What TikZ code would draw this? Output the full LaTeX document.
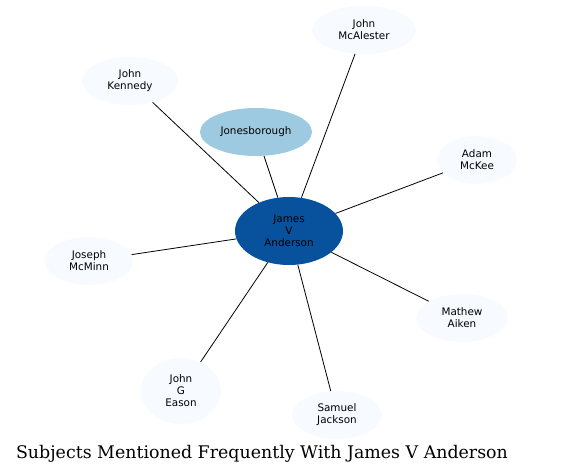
\documentclass[tikz,border=0pt]{standalone}
\usepackage{fontspec}
\setmainfont{DejaVu Serif}
\newfontfamily\nodefont{DejaVu Sans}
\usepackage{xcolor}
\definecolor{subjdark}{RGB}{8,81,156}
\definecolor{subjmid}{RGB}{158,202,225}
\definecolor{subjpale}{RGB}{247,251,255}
\usepackage{tikz}
\usetikzlibrary{shapes.geometric}
\tikzset{
  subj node/.style={ellipse, fill=subjpale, inner sep=0pt, align=center, font=\nodefont\fontsize{10.4}{12}\selectfont, minimum height=48pt},
  subj edge/.style={line width=0.8pt, black},
}
\begin{document}
\begin{tikzpicture}[x=1pt, y=-1pt]
  \useasboundingbox (0,0) rectangle (563,476);
  \node[subj node, fill=subjdark, minimum width=108pt, minimum height=68pt] (jva) at (289,231) {James\\V\\Anderson};
  \node[subj node, fill=subjmid, minimum width=112pt] (jon) at (256,132) {Jonesborough};
  \node[subj node, minimum width=104pt] (mca) at (364,30) {John\\McAlester};
  \node[subj node, minimum width=96pt] (ken) at (130,81) {John\\Kennedy};
  \node[subj node, minimum width=80pt] (mck) at (477,160) {Adam\\McKee};
  \node[subj node, minimum width=88pt] (mcm) at (89,261) {Joseph\\McMinn};
  \node[subj node, minimum width=92pt] (aik) at (462,318) {Mathew\\Aiken};
  \node[subj node, minimum width=80pt, minimum height=66pt] (eas) at (181,391) {John\\G\\Eason};
  \node[subj node, minimum width=90pt] (jac) at (337,415) {Samuel\\Jackson};
  \foreach \n in {jon,mca,ken,mck,mcm,aik,eas,jac}
    \draw[subj edge] (jva) -- (\n);
  \node[font=\fontsize{17.4}{20}\selectfont] (title) at (262,454) {Subjects Mentioned Frequently With James V Anderson};
\end{tikzpicture}
\end{document}
